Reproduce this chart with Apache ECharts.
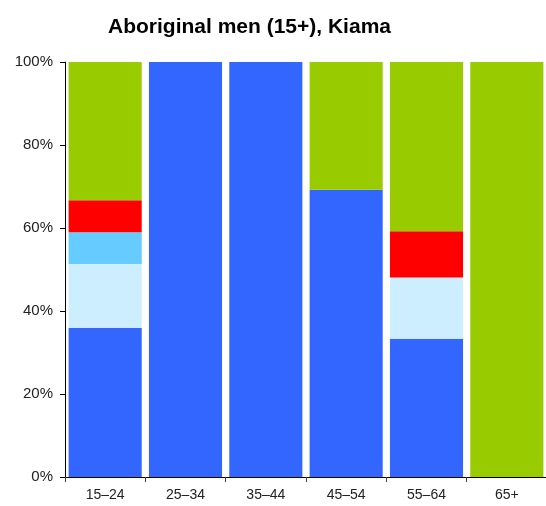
<!DOCTYPE html>
<html>
<head>
<meta charset="utf-8">
<title>Aboriginal men (15+), Kiama</title>
<script src="https://cdn.jsdelivr.net/npm/echarts@6/dist/echarts.min.js"></script>
<style>
  html, body { margin: 0; padding: 0; overflow: hidden; background: #fff; }
  #chart { width: 548px; height: 506px; }
</style>
</head>
<body>
<div id="chart"></div>
<script>
var ageGroups = ['15–24', '25–34', '35–44', '45–54', '55–64', '65+'];
// shares in percent
var fullTime   = [35.9, 100, 100, 69.2, 33.3, 0];
var partTime   = [15.4, 0, 0, 0, 14.8, 0];
var awayWork   = [7.7, 0, 0, 0, 0, 0];
var unemployed = [7.7, 0, 0, 0, 11.1, 0];
var notInLF    = [33.3, 0, 0, 30.8, 40.8, 100];
var yTicks = [0, 20, 40, 60, 80, 100];

var font = 'Liberation Sans, Arial, Helvetica, sans-serif';

function seg(name, data, color) {
  return {
    name: name,
    type: 'bar',
    stack: 'all',
    data: data,
    barCategoryGap: '9%',
    itemStyle: { color: color },
    emphasis: { disabled: true }
  };
}

var chart = echarts.init(document.getElementById('chart'));
chart.setOption({
  animation: false,
  backgroundColor: '#fff',
  title: {
    text: 'Aboriginal men (15+), Kiama',
    left: 103,
    top: 12,
    textStyle: { fontFamily: font, fontSize: 21, fontWeight: 'bold', color: '#000' }
  },
  grid: { left: 65, right: 1, top: 62, bottom: 29, containLabel: false },
  xAxis: {
    type: 'category',
    data: ageGroups,
    axisLine: { lineStyle: { color: '#000', width: 1 } },
    axisTick: { show: true, length: 5, lineStyle: { color: '#444' } },
    axisLabel: { fontFamily: font, fontSize: 14, color: '#222', margin: 11 }
  },
  yAxis: {
    type: 'value',
    min: yTicks[0],
    max: yTicks[yTicks.length - 1],
    interval: 20,
    splitLine: { show: false },
    axisLine: { show: true, lineStyle: { color: '#000', width: 1 } },
    axisTick: { show: true, length: 5, lineStyle: { color: '#000' } },
    axisLabel: {
      fontFamily: font, fontSize: 15, color: '#222', margin: 12,
      formatter: function (v) { return v + '%'; }
    }
  },
  series: [
    seg('Employed full-time', fullTime, '#3366ff'),
    seg('Employed part-time', partTime, '#cceeff'),
    seg('Employed, away from work', awayWork, '#66ccff'),
    seg('Unemployed', unemployed, '#ff0000'),
    seg('Not in the labour force', notInLF, '#99cc00')
  ]
});
</script>
</body>
</html>
